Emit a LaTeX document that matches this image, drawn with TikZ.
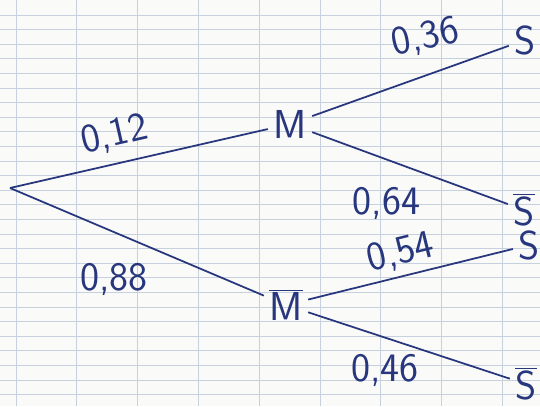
\documentclass[tikz,border=0pt]{standalone}
\usepackage{tikz}
\usetikzlibrary{positioning,calc}
\definecolor{ink}{RGB}{40,55,125}
\definecolor{gridline}{RGB}{198,208,222}
\definecolor{paper}{RGB}{250,250,248}

\begin{document}
\begin{tikzpicture}[x=0.02cm, y=-0.02cm,
    branch/.style={draw=ink, line width=1pt},
    event/.style={text=ink, font=\sffamily\fontsize{23}{25}\selectfont, inner sep=3pt},
    proba/.style={text=ink, font=\sffamily\fontsize{23}{25}\selectfont}]
  % papier quadrillé
  \fill[paper] (0,0) rectangle (540,406);
  \useasboundingbox (0,0) rectangle (540,406);
  \foreach \k in {0,...,26} {
    \draw[gridline, thin] (0,15+\k*14.6) -- (540,15+\k*14.6);
  }
  \foreach \k in {0,...,8} {
    \draw[gridline] (16+\k*60.8,0) -- (16+\k*60.8,406);
  }

  % événements
  \coordinate (root) at (10,188);
  \node[event] (M) at (290,124) {M};
  \node[event] (Mb) at (286,305) {$\overline{\textsf{M}}$};
  \node[event] (S1) at (525,40) {S};
  \node[event] (S1b) at (524,210) {$\overline{\textsf{S}}$};
  \node[event] (S2) at (529,245) {S};
  \node[event] (S2b) at (526,384) {$\overline{\textsf{S}}$};

  % branches et probabilités
  \draw[branch] (root) -- node[proba, pos=0.43, above=3pt, sloped] {0,12} (M);
  \draw[branch] (root) -- node[proba, pos=0.41, below=14pt] {0,88} (Mb);
  \draw[branch] (M) -- node[proba, pos=0.6, above=8pt, rotate=12] {0,36} (S1);
  \draw[branch] (M) -- node[proba, pos=0.38, below=12pt] {0,64} (S1b);
  \draw[branch] (Mb) -- node[proba, pos=0.48, above=0pt, sloped] {0,54} (S2);
  \draw[branch] (Mb) -- node[proba, pos=0.38, below=6pt] {0,46} (S2b);
\end{tikzpicture}
\end{document}
